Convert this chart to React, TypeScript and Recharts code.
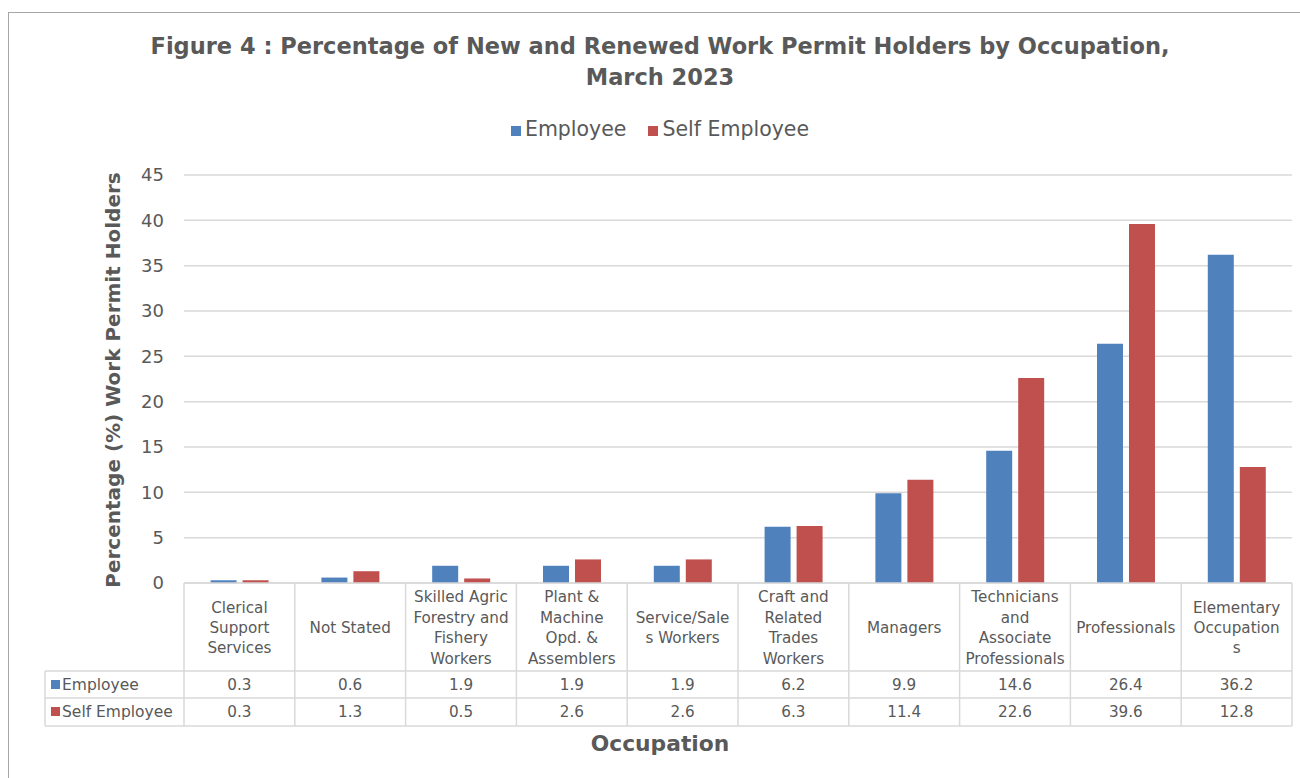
import React from 'react';
import { BarChart, Bar, XAxis, YAxis, CartesianGrid, Label } from 'recharts';

const occupations = [
  'Clerical\nSupport\nServices',
  'Not Stated',
  'Skilled Agric\nForestry and\nFishery\nWorkers',
  'Plant &\nMachine\nOpd. &\nAssemblers',
  'Service/Sale\ns Workers',
  'Craft  and\nRelated\nTrades\nWorkers',
  'Managers',
  'Technicians\nand\nAssociate\nProfessionals',
  'Professionals',
  'Elementary\nOccupation\ns',
];
const employee = [0.3, 0.6, 1.9, 1.9, 1.9, 6.2, 9.9, 14.6, 26.4, 36.2];
const selfEmployee = [0.3, 1.3, 0.5, 2.6, 2.6, 6.3, 11.4, 22.6, 39.6, 12.8];
const yTicks = [0, 5, 10, 15, 20, 25, 30, 35, 40, 45];

const data = occupations.map((name, i) => ({
  name,
  employee: employee[i],
  selfEmployee: selfEmployee[i],
}));

const FONT = '"DejaVu Sans", Lato, sans-serif';
const TEXT = '#595959';
const GRID = '#d9d9d9';
const BLUE = '#4f81bd';
const RED = '#c0504d';

const W = 1300;
const H = 778;
const PLOT_LEFT = 184;
const PLOT_RIGHT = 1292;
const PLOT_TOP = 175;
const PLOT_BOTTOM = 583;
const HEAD_BOTTOM = 671;
const ROW1_BOTTOM = 698;
const ROW2_BOTTOM = 726;
const TABLE_LEFT = 45;
const CELL = (PLOT_RIGHT - PLOT_LEFT) / occupations.length;
const TABLE_FS = 15.2;

const TableColumn = (props: any) => {
  const { payload, index } = props;
  const cx = payload.coordinate;
  const lines = String(payload.value).split('\n');
  const lh = 20.4;
  const midY = (PLOT_BOTTOM + HEAD_BOTTOM) / 2 + 1;
  const firstY = midY - ((lines.length - 1) * lh) / 2;
  const left = cx - CELL / 2;
  const right = cx + CELL / 2;
  return (
    <g>
      {index === 0 && (
        <g>
          {[HEAD_BOTTOM, ROW1_BOTTOM, ROW2_BOTTOM].map((y) => (
            <line key={y} x1={TABLE_LEFT} x2={PLOT_RIGHT} y1={y} y2={y} stroke={GRID} strokeWidth={1.5} />
          ))}
          <line x1={TABLE_LEFT} x2={TABLE_LEFT} y1={HEAD_BOTTOM} y2={ROW2_BOTTOM} stroke={GRID} strokeWidth={1.5} />
          <rect x={51} y={680} width={9} height={9} fill={BLUE} />
          <text x={62} y={685} dominantBaseline="central" fontSize={15.5} fill={TEXT} fontFamily={FONT}>Employee</text>
          <rect x={51} y={707} width={9} height={9} fill={RED} />
          <text x={62} y={712} dominantBaseline="central" fontSize={15.5} fill={TEXT} fontFamily={FONT}>Self Employee</text>
        </g>
      )}
      <line x1={left} x2={left} y1={PLOT_BOTTOM} y2={ROW2_BOTTOM} stroke={GRID} strokeWidth={1.5} />
      {index === occupations.length - 1 && (
        <line x1={right} x2={right} y1={PLOT_BOTTOM} y2={ROW2_BOTTOM} stroke={GRID} strokeWidth={1.5} />
      )}
      <text textAnchor="middle" fontSize={TABLE_FS} fill={TEXT} fontFamily={FONT}>
        {lines.map((l, i) => (
          <tspan key={i} x={cx} y={firstY + i * lh} dominantBaseline="central">{l}</tspan>
        ))}
      </text>
      <text x={cx} y={685} textAnchor="middle" dominantBaseline="central" fontSize={TABLE_FS} fill={TEXT} fontFamily={FONT}>
        {employee[index]}
      </text>
      <text x={cx} y={712} textAnchor="middle" dominantBaseline="central" fontSize={TABLE_FS} fill={TEXT} fontFamily={FONT}>
        {selfEmployee[index]}
      </text>
    </g>
  );
};

const YTitle = () => (
  <text
    x={113}
    y={380}
    transform="rotate(-90 113 380)"
    textAnchor="middle"
    dominantBaseline="central"
    fontSize={20}
    fontWeight="bold"
    fill={TEXT}
    fontFamily={FONT}
  >
    Percentage (%) Work Permit Holders
  </text>
);

const XTitle = () => (
  <text x={660} y={743} textAnchor="middle" dominantBaseline="central" fontSize={21.8} fontWeight="bold" fill={TEXT} fontFamily={FONT}>
    Occupation
  </text>
);

export default function App() {
  return (
    <div style={{ position: 'absolute', left: 0, top: 0, width: W, height: H, background: '#fff', overflow: 'hidden', fontFamily: FONT }}>
      <div style={{ position: 'absolute', left: 8, top: 12, width: W, height: H, borderLeft: '1px solid #a6a6a6', borderTop: '1px solid #a6a6a6' }} />
      <div style={{ position: 'absolute', left: 0, top: 31, width: 1320, textAlign: 'center', color: TEXT, fontWeight: 'bold', fontSize: 22.5, lineHeight: '31px' }}>
        Figure 4 : Percentage of New and Renewed Work Permit Holders by Occupation,
        <br />
        March 2023
      </div>
      <div style={{ position: 'absolute', left: 0, top: 117, width: 1320, textAlign: 'center', color: TEXT, fontSize: 20.5 }}>
        <span style={{ display: 'inline-block', width: 10, height: 10, background: BLUE, marginRight: 4 }} />
        Employee
        <span style={{ display: 'inline-block', width: 10, height: 10, background: RED, marginLeft: 22, marginRight: 4 }} />
        Self Employee
      </div>
      <div style={{ position: 'absolute', left: 0, top: 0 }}>
        <BarChart
          width={W}
          height={H}
          data={data}
          margin={{ top: PLOT_TOP, right: W - PLOT_RIGHT, bottom: H - HEAD_BOTTOM, left: 0 }}
          barCategoryGap="24%"
          barGap={6}
        >
          <CartesianGrid vertical={false} stroke={GRID} strokeWidth={1.5} />
          <XAxis
            dataKey="name"
            height={HEAD_BOTTOM - PLOT_BOTTOM}
            interval={0}
            tickLine={false}
            axisLine={{ stroke: GRID, strokeWidth: 1.5 }}
            tick={<TableColumn />}
          >
            <Label content={<XTitle />} />
          </XAxis>
          <YAxis
            width={PLOT_LEFT}
            domain={[0, 45]}
            ticks={yTicks}
            interval={0}
            tickLine={false}
            axisLine={false}
            tickSize={0}
            tickMargin={20}
            tick={{ fill: TEXT, fontSize: 18, fontFamily: FONT }}
          >
            <Label content={<YTitle />} />
          </YAxis>
          <Bar dataKey="employee" fill={BLUE} isAnimationActive={false} />
          <Bar dataKey="selfEmployee" fill={RED} isAnimationActive={false} />
        </BarChart>
      </div>
    </div>
  );
}
